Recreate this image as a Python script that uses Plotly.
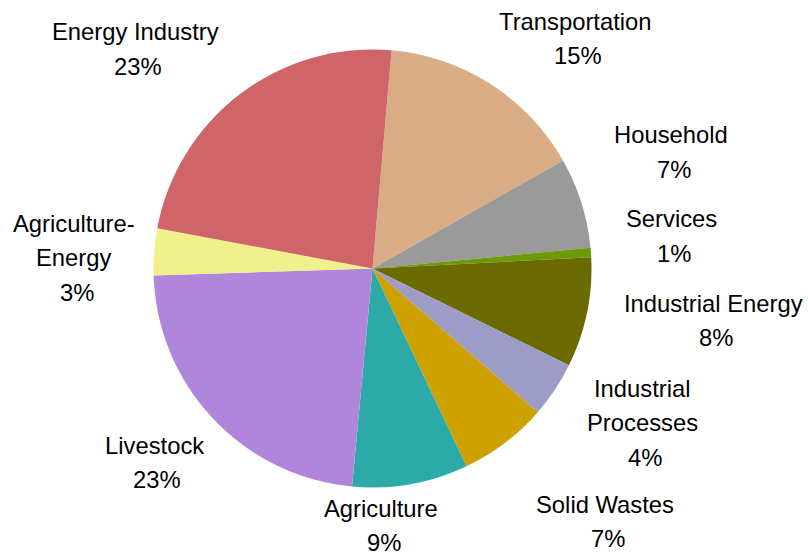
import plotly.graph_objects as go

# Emission shares by sector (percent of total)
sectors = ["Transportation", "Household", "Services", "Industrial Energy",
           "Industrial Processes", "Solid Wastes", "Agriculture", "Livestock",
           "Agriculture-Energy", "Energy Industry"]
shares = [15.4, 6.7, 0.7, 8.1, 4.1, 6.55, 8.55, 23.0, 3.45, 23.45]

# Label text as it is split onto lines
label_lines = {
    "Industrial Processes": ["Industrial", "Processes"],
    "Agriculture-Energy": ["Agriculture-", "Energy"],
}

slice_colors = ["#D8AC84", "#9A9A9A", "#6C9A08", "#6A6A00", "#9C9CC6",
                "#CCA100", "#2CAAA8", "#B086DC", "#F0F08C", "#CF6569"]

W, H = 808, 555
cx, cy, r = 372.5, 268.5, 219.0

fig = go.Figure(go.Pie(
    labels=sectors,
    values=shares,
    sort=False,
    direction="clockwise",
    rotation=5.0,
    marker=dict(colors=slice_colors, line=dict(width=0)),
    textinfo="none",
    hoverinfo="label+percent",
    showlegend=False,
    domain=dict(x=[(cx - r) / W, (cx + r) / W],
                y=[(H - cy - r) / H, (H - cy + r) / H]),
))

# Label anchors: centre x and first-line centre y (pixels from top-left)
label_anchor = {
    "Energy Industry": (135, 32),
    "Transportation": (575, 21),
    "Household": (671, 135),
    "Services": (671, 219),
    "Industrial Energy": (713, 303),
    "Industrial Processes": (642, 388),
    "Solid Wastes": (605, 504),
    "Agriculture": (381, 508),
    "Livestock": (154, 445),
    "Agriculture-Energy": (74, 223),
}

line_gap = 34.5
total = sum(shares)
annotations = []
for name, val in zip(sectors, shares):
    x0, y0 = label_anchor[name]
    pct = int(val / total * 100 + 0.5)
    lines = label_lines.get(name, [name]) + [f"{pct}%"]
    for i, txt in enumerate(lines):
        dx = 3 if i == len(lines) - 1 else 0
        annotations.append(dict(
            x=(x0 + dx) / W, y=1 - (y0 + i * line_gap) / H,
            xref="paper", yref="paper", text=txt, showarrow=False,
            xanchor="center", yanchor="middle",
            font=dict(family="Liberation Sans, Arial, sans-serif", size=23.8, color="#000000"),
        ))

fig.update_layout(
    width=W, height=H,
    margin=dict(l=0, r=0, t=0, b=0),
    paper_bgcolor="white", plot_bgcolor="white",
    annotations=annotations,
)

fig.write_html("out.html")
